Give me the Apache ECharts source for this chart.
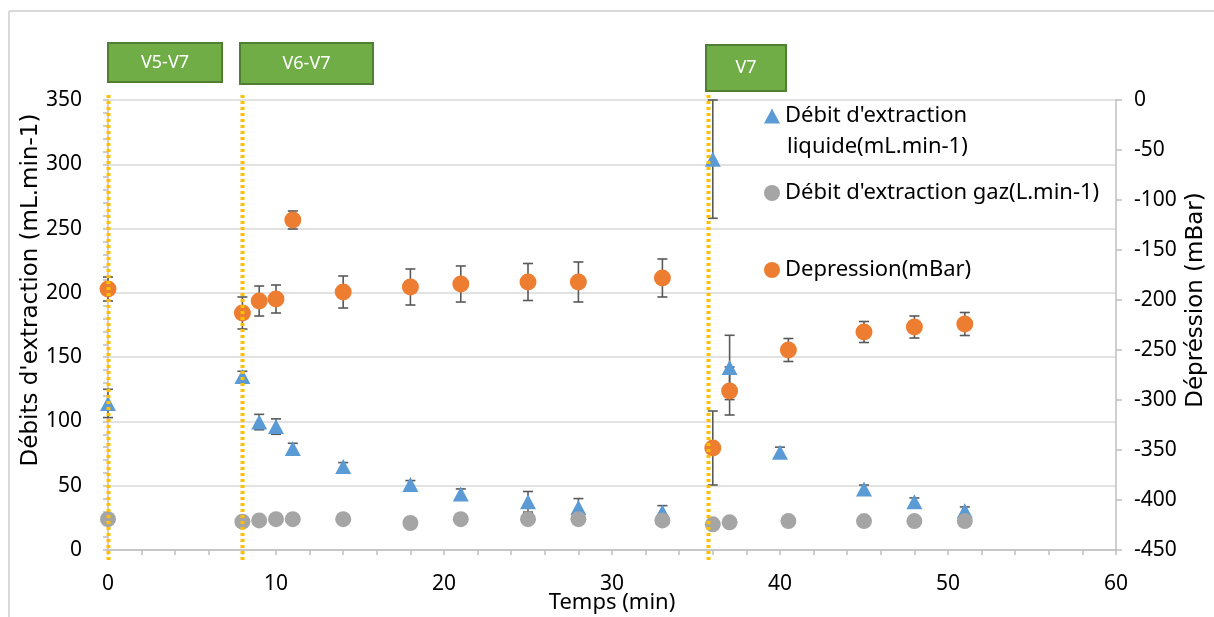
<!DOCTYPE html>
<html>
<head>
<meta charset="utf-8">
<script src="https://cdn.jsdelivr.net/npm/echarts@6/dist/echarts.min.js"></script>
<style>
  html, body { margin: 0; padding: 0; background: #fff; }
  #chart { width: 1214px; height: 617px; }
</style>
</head>
<body>
<div id="chart"></div>
<script>
// ---- Data ----
const timeLiquid = [0, 8, 9, 10, 11, 14, 18, 21, 25, 28, 33, 36, 37, 40, 45, 48, 51];
const liquid     = [114, 135, 99.5, 96, 79, 65, 51, 43.5, 37.5, 33, 29.5, 304, 142, 76, 47.5, 37.5, 30.5];
const liquidErr  = [11, 4, 6, 6, 4, 3, 3, 4, 8, 7, 5, 46, 25, 4, 3, 3, 3];

const timeGas = [0, 8, 9, 10, 11, 14, 18, 21, 25, 28, 33, 36, 37, 40.5, 45, 48, 51];
const gas     = [24, 22, 23, 24, 24, 24, 21, 24, 24, 24, 23, 20, 21.5, 22.5, 22.5, 22.5, 22.5];

const timeDep    = [0, 8, 9, 10, 11, 14, 18, 21, 25, 28, 33, 36, 37, 40.5, 45, 48, 51];
const depression = [-189, -213, -201, -199, -120, -192, -187, -184, -182, -182, -178, -348, -291, -250, -232, -227, -224];
const depErr     = [12, 16, 15, 14, 9, 16, 18, 18, 18.5, 20, 19, 37, 24, 11.5, 10.5, 11, 11.5];

const phaseX = [0, 8, 35.7];
const phaseLabels = ['V5-V7', 'V6-V7', 'V7'];

const nameLiquid = "Débit d'extraction liquide(mL.min-1)";
const nameGas = "Débit d'extraction gaz(L.min-1)";
const nameDep = "Depression(mBar)";

// ---- Build ----
const FONT = 'Noto Sans';
const TITLEFONT = 'DejaVu Sans';
const TXT = '#000';
const AXIS = '#BFBFBF';
const GRIDC = '#D9D9D9';
const LEGFS = 22;

function zip3(a, b, c) { return a.map((v, i) => [v, b[i], c ? c[i] : 0]); }

function errRender(params, api) {
  const x = api.value(0), y = api.value(1), e = api.value(2);
  const t = api.coord([x, y + e]);
  const b = api.coord([x, y - e]);
  const hw = 5;
  const st = { stroke: '#595959', lineWidth: 1.6 };
  return {
    type: 'group',
    children: [
      { type: 'line', shape: { x1: t[0], y1: t[1], x2: b[0], y2: b[1] }, style: st },
      { type: 'line', shape: { x1: t[0] - hw, y1: t[1], x2: t[0] + hw, y2: t[1] }, style: st },
      { type: 'line', shape: { x1: b[0] - hw, y1: b[1], x2: b[0] + hw, y2: b[1] }, style: st }
    ]
  };
}

function phaseRender(params, api) {
  const x = api.value(0);
  const top = api.coord([x, 350]);
  const bot = api.coord([x, 0]);
  return {
    type: 'line',
    shape: { x1: Math.round(top[0]) + 0.5, y1: top[1] - 5, x2: Math.round(bot[0]) + 0.5, y2: bot[1] + 12 },
    style: { stroke: '#FFC000', lineWidth: 4, lineDash: [3, 3], opacity: 1 }
  };
}

const boxes = [
  { x: 108, y: 43, w: 114, h: 39 },
  { x: 240, y: 43, w: 133, h: 41 },
  { x: 706, y: 45, w: 80, h: 46 }
];

const chart = echarts.init(document.getElementById('chart'));
const option = {
  animation: false,
  backgroundColor: '#fff',
  textStyle: { fontFamily: FONT },
  grid: { left: 108, right: 98, top: 100, bottom: 67, containLabel: false, outerBoundsMode: 'none' },
  legend: [
    {
      data: [{ name: nameLiquid, icon: 'triangle' }],
      left: 764, top: 105, orient: 'vertical', padding: 0,
      itemWidth: 16, itemHeight: 15, selectedMode: false,
      formatter: () => "Débit d'extraction",
      textStyle: { fontFamily: FONT, fontSize: LEGFS, color: TXT }
    },
    {
      data: [{ name: nameGas, icon: 'circle' }],
      left: 764, top: 182, orient: 'vertical', padding: 0,
      itemWidth: 16, itemHeight: 16, selectedMode: false,
      textStyle: { fontFamily: FONT, fontSize: LEGFS, color: TXT }
    },
    {
      data: [{ name: nameDep, icon: 'circle' }],
      left: 764, top: 259, orient: 'vertical', padding: 0,
      itemWidth: 16, itemHeight: 16, selectedMode: false,
      textStyle: { fontFamily: FONT, fontSize: LEGFS, color: TXT }
    }
  ],
  xAxis: {
    type: 'value', min: 0, max: 60, interval: 10,
    name: 'Temps (min)', nameLocation: 'middle', nameGap: 42, nameMoveOverlap: false,
    nameTextStyle: { fontFamily: FONT, fontSize: 22, color: TXT },
    axisLine: { show: true, lineStyle: { color: AXIS, width: 1.5 } },
    axisTick: { show: true, length: 5, lineStyle: { color: AXIS, width: 1.5 } },
    minorTick: { show: true, splitNumber: 5, length: 5, lineStyle: { color: AXIS, width: 1.5 } },
    axisLabel: { fontFamily: FONT, fontSize: 21, color: TXT, margin: 24 },
    splitLine: { show: false }
  },
  yAxis: [
    {
      type: 'value', min: 0, max: 350, interval: 50, position: 'left',
      name: "Débits d'extraction (mL.min-1)", nameLocation: 'middle', nameGap: 65, nameRotate: 90,
      nameMoveOverlap: false,
      nameTextStyle: { fontFamily: TITLEFONT, fontSize: 23, color: TXT, padding: [0, 0, 0, 70] },
      axisLine: { show: true, lineStyle: { color: AXIS, width: 1.5 } },
      axisTick: { show: true, length: 5, lineStyle: { color: AXIS, width: 1.5 } },
      minorTick: { show: true, splitNumber: 5, length: 5, lineStyle: { color: AXIS, width: 1.5 } },
      axisLabel: { fontFamily: FONT, fontSize: 21, color: TXT, margin: 26 },
      splitLine: { show: true, lineStyle: { color: GRIDC, width: 1.5 } }
    },
    {
      type: 'value', min: -450, max: 0, interval: 50, position: 'right',
      name: 'Dépréssion (mBar)', nameLocation: 'middle', nameGap: 69, nameRotate: 90,
      nameMoveOverlap: false,
      nameTextStyle: { fontFamily: TITLEFONT, fontSize: 23, color: TXT, padding: [0, 0, 0, 50] },
      axisLine: { show: true, lineStyle: { color: AXIS, width: 1.5 } },
      axisTick: { show: true, length: 6, lineStyle: { color: AXIS, width: 1.5 } },
      axisLabel: { fontFamily: FONT, fontSize: 21, color: TXT, margin: 18 },
      splitLine: { show: false }
    }
  ],
  series: [
    {
      type: 'custom', name: 'errLiquid', renderItem: errRender, clip: false, silent: true, z: 2,
      xAxisIndex: 0, yAxisIndex: 0, encode: { x: 0, y: 1 },
      data: zip3(timeLiquid, liquid, liquidErr)
    },
    {
      type: 'custom', name: 'errDep', renderItem: errRender, clip: false, silent: true, z: 2,
      xAxisIndex: 0, yAxisIndex: 1, encode: { x: 0, y: 1 },
      data: zip3(timeDep, depression, depErr)
    },
    {
      type: 'scatter', name: nameLiquid, yAxisIndex: 0, z: 3,
      symbol: 'triangle', symbolSize: [16, 15],
      itemStyle: { color: '#5B9BD5', opacity: 1 },
      data: timeLiquid.map((t, i) => [t, liquid[i]])
    },
    {
      type: 'scatter', name: nameGas, yAxisIndex: 0, z: 3,
      symbol: 'circle', symbolSize: 16,
      itemStyle: { color: '#A5A5A5', opacity: 1 },
      data: timeGas.map((t, i) => [t, gas[i]])
    },
    {
      type: 'scatter', name: nameDep, yAxisIndex: 1, z: 4,
      symbol: 'circle', symbolSize: 17,
      itemStyle: { color: '#ED7D31', opacity: 1 },
      data: timeDep.map((t, i) => [t, depression[i]])
    },
    {
      type: 'custom', name: 'phases', renderItem: phaseRender, clip: false, silent: true, z: 10,
      xAxisIndex: 0, yAxisIndex: 0, encode: { x: 0, y: 1 },
      data: phaseX.map(x => [x, 0])
    }
  ],
  graphic: [
    { type: 'line', shape: { x1: 9, y1: 11, x2: 1214, y2: 11 }, style: { stroke: '#D9D9D9', lineWidth: 2 }, z: 0 },
    { type: 'line', shape: { x1: 9, y1: 11, x2: 9, y2: 617 }, style: { stroke: '#D9D9D9', lineWidth: 2 }, z: 0 },
    { type: 'text', left: 787, top: 136, style: { text: 'liquide(mL.min-1)', fontFamily: FONT, fontSize: LEGFS, fill: TXT } }
  ].concat(boxes.map((b, i) => ({
    type: 'group', z: 5,
    children: [
      { type: 'rect', shape: { x: b.x, y: b.y, width: b.w, height: b.h },
        style: { fill: '#70AD47', stroke: '#507E32', lineWidth: 2 } },
      { type: 'text', x: b.x + b.w / 2, y: b.y + b.h / 2,
        style: { text: phaseLabels[i], fontFamily: FONT, fontSize: 18, fill: '#fff', align: 'center', verticalAlign: 'middle' } }
    ]
  })))
};
chart.setOption(option);
</script>
</body>
</html>
